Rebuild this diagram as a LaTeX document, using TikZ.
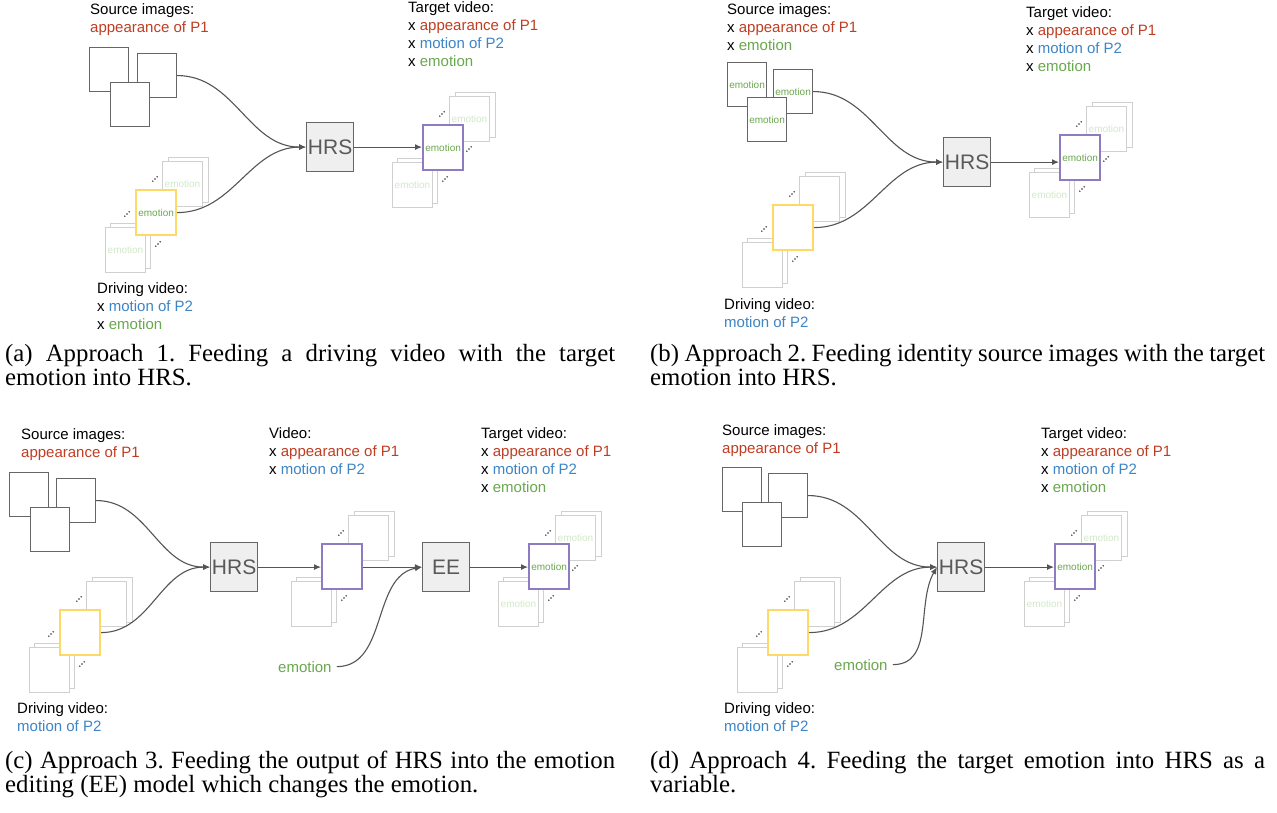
\documentclass[tikz,border=0pt]{standalone}
\usepackage{fontspec}
\setmainfont{Liberation Sans}
\newfontfamily\capfont{Liberation Serif}
\usetikzlibrary{arrows.meta}
\definecolor{cred}{HTML}{C13D22}
\definecolor{cblue}{HTML}{3D85C6}
\definecolor{cgreen}{HTML}{6AA84F}
\definecolor{cfade}{HTML}{D3E8CB}
\definecolor{cyel}{HTML}{FFD966}
\definecolor{cpur}{HTML}{8E7CC3}
\definecolor{cghost}{HTML}{D0D0D0}
\definecolor{cbox}{HTML}{666666}
\definecolor{cline}{HTML}{555555}
\definecolor{cproc}{HTML}{EFEFEF}
\definecolor{cproctext}{HTML}{595959}
\newcommand\Rd[1]{\textcolor{cred}{#1}}
\newcommand\Bl[1]{\textcolor{cblue}{#1}}
\newcommand\Gr[1]{\textcolor{cgreen}{#1}}
\newcommand\tridot[2]{\fill[black!80] ({#1-2.2},{#2+2.2}) circle (0.8) ({#1},{#2}) circle (0.8) ({#1+2.2},{#2-2.2}) circle (0.8);}
\newcommand\vidstack[7]{%
  \node[ghostframe] (#1ub) at ({#2+33},{#3-32}) {};
  \node[ghostframe] (#1uf) at ({#2+27},{#3-28}) {#6};
  \node[ghostframe] (#1lb) at ({#2-25},{#3+34}) {};
  \node[ghostframe] (#1lf) at ({#2-30},{#3+38}) {#6};
  \node[#4] (#1) at (#2,#3) {#5};
  \tridot{#2+20}{#3-10}
  \ifnum#7=1 \tridot{#2+47}{#3+25}\fi
  \ifnum#7=-1 \tridot{#2-8}{#3+25}\fi
  \tridot{#2+23}{#3+55}
}
\begin{document}
\begin{tikzpicture}[x=1pt,y=-1pt,
  lbl/.style={anchor=base west, inner sep=0pt, font=\fontsize{15}{18}\selectfont},
  smallfont/.style={font=\fontsize{10}{12}\selectfont},
  srcbox/.style={smallfont, draw=cbox, fill=white, line width=1.1pt, minimum width=39pt, minimum height=44pt, inner sep=0pt, anchor=north west, text=cgreen},
  ghostframe/.style={smallfont, draw=cghost, fill=white, line width=1pt, minimum width=40pt, minimum height=45pt, inner sep=0pt, anchor=north west, text=cfade},
  yelframe/.style={smallfont, draw=cyel, fill=white, line width=2.2pt, minimum width=40pt, minimum height=45pt, inner sep=0pt, anchor=north west, text=cgreen},
  purframe/.style={smallfont, draw=cpur, fill=white, line width=2.2pt, minimum width=40pt, minimum height=45pt, inner sep=0pt, anchor=north west, text=cgreen},
  proc/.style={draw=cbox, fill=cproc, line width=1.2pt, minimum width=47pt, minimum height=49pt, inner sep=0pt, anchor=north west, text=cproctext, font=\fontsize{21}{21}\selectfont},
  cur/.style={draw=cline, line width=1.1pt, -{Latex[length=7pt,width=6pt]}},
  captxt/.style={anchor=base west, inner sep=0pt, font=\capfont\fontsize{24.8}{24}\selectfont\frenchspacing},
]
\fill[white] (0,0) rectangle (1277,813);
\useasboundingbox (0,0) rectangle (1277,813);

% ---------------- (a) ----------------
\node[lbl] (aSrcL) at (90,15) {\vtop{\hbox{Source images:}\hbox{\Rd{appearance of P1}}}};
\node[lbl] (aTgtL) at (408,13) {\vtop{\hbox{Target video:}\hbox{x \Rd{appearance of P1}}\hbox{x \Bl{motion of P2}}\hbox{x \Gr{emotion}}}};
\node[lbl] (aDrvL) at (97,293) {\vtop{\hbox{Driving video:}\hbox{x \Bl{motion of P2}}\hbox{x \Gr{emotion}}}};
\node[srcbox] (aB1) at (89,47) {};
\node[srcbox] (aB2) at (137,53) {};
\node[srcbox] (aB3) at (110,82) {};
\node[proc] (aH) at (306,122) {HRS};
\vidstack{aD}{135}{189}{yelframe}{emotion}{emotion}{-1}
\vidstack{aT}{422}{124}{purframe}{emotion}{emotion}{1}
\draw[cur] (aB2.east) to[out=0,in=180] (aH.west);
\draw[cur] (aD.east) to[out=0,in=180] (aH.west);
\draw[cur] (aH.east) -- (aH.east -| aT.west);
\node[captxt] (capA) at (5,361) {\parbox[t]{610pt}{(a) Approach 1. Feeding a driving video with the target\linebreak emotion into HRS.}};

% ---------------- (b) ----------------
\node[lbl] (bSrcL) at (727,15) {\vtop{\hbox{Source images:}\hbox{x \Rd{appearance of P1}}\hbox{x \Gr{emotion}}}};
\node[lbl] (bTgtL) at (1026,18) {\vtop{\hbox{Target video:}\hbox{x \Rd{appearance of P1}}\hbox{x \Bl{motion of P2}}\hbox{x \Gr{emotion}}}};
\node[lbl] (bDrvL) at (724,309) {\vtop{\hbox{Driving video:}\hbox{\Bl{motion of P2}}}};
\node[srcbox] (bB1) at (727,62) {emotion};
\node[srcbox] (bB2) at (773,69) {emotion};
\node[srcbox] (bB3) at (747,97) {emotion};
\node[proc] (bH) at (943,137) {HRS};
\vidstack{bD}{772}{204}{yelframe}{}{}{-1}
\vidstack{bT}{1059}{134}{purframe}{emotion}{emotion}{1}
\draw[cur] (bB2.east) to[out=0,in=180] (bH.west);
\draw[cur] (bD.east) to[out=0,in=180] (bH.west);
\draw[cur] (bH.east) -- (bH.east -| bT.west);
\node[captxt] (capB) at (650,361) {\parbox[t]{615pt}{(b) Approach 2. Feeding identity source images with the target\linebreak emotion into HRS.}};

% ---------------- (c) ----------------
\node[lbl] (cSrcL) at (21,439) {\vtop{\hbox{Source images:}\hbox{\Rd{appearance of P1}}}};
\node[lbl] (cVidL) at (269,438) {\vtop{\hbox{Video:}\hbox{x \Rd{appearance of P1}}\hbox{x \Bl{motion of P2}}}};
\node[lbl] (cTgtL) at (481,438) {\vtop{\hbox{Target video:}\hbox{x \Rd{appearance of P1}}\hbox{x \Bl{motion of P2}}\hbox{x \Gr{emotion}}}};
\node[lbl] (cDrvL) at (17,713) {\vtop{\hbox{Driving video:}\hbox{\Bl{motion of P2}}}};
\node[lbl, text=cgreen] (cEmo) at (278,672) {emotion};
\node[srcbox] (cB1) at (9,472) {};
\node[srcbox] (cB2) at (56,478) {};
\node[srcbox] (cB3) at (30,507) {};
\node[proc] (cH) at (210,542) {HRS};
\node[proc] (cEE) at (422,542) {EE};
\vidstack{cD}{59}{609}{yelframe}{}{}{-1}
\vidstack{cM}{321}{543}{purframe}{}{}{0}
\vidstack{cT}{528}{543}{purframe}{emotion}{emotion}{1}
\draw[cur] (cB2.east) to[out=0,in=180] (cH.west);
\draw[cur] (cD.east) to[out=0,in=180] (cH.west);
\draw[cur] (cH.east) -- (cH.east -| cM.west);
\draw[cur] (cH.east -| cM.east) -- (cEE.west);
\draw[cur] ([xshift=5pt]cEmo.east) to[out=0,in=190] (cEE.west);
\draw[cur] (cEE.east) -- (cEE.east -| cT.west);
\node[captxt] (capC) at (5,768) {\parbox[t]{610pt}{(c) Approach 3. Feeding the output of HRS into the emotion\linebreak editing (EE) model which changes the emotion.}};

% ---------------- (d) ----------------
\node[lbl] (dSrcL) at (722,435) {\vtop{\hbox{Source images:}\hbox{\Rd{appearance of P1}}}};
\node[lbl] (dTgtL) at (1041,438) {\vtop{\hbox{Target video:}\hbox{x \Rd{appearance of P1}}\hbox{x \Bl{motion of P2}}\hbox{x \Gr{emotion}}}};
\node[lbl] (dDrvL) at (724,713) {\vtop{\hbox{Driving video:}\hbox{\Bl{motion of P2}}}};
\node[lbl, text=cgreen] (dEmo) at (834,670) {emotion};
\node[srcbox] (dB1) at (722,467) {};
\node[srcbox] (dB2) at (768,473) {};
\node[srcbox] (dB3) at (742,502) {};
\node[proc] (dH) at (937,542) {HRS};
\vidstack{dD}{767}{609}{yelframe}{}{}{-1}
\vidstack{dT}{1054}{543}{purframe}{emotion}{emotion}{1}
\draw[cur] (dB2.east) to[out=0,in=180] (dH.west);
\draw[cur] (dD.east) to[out=0,in=180] (dH.west);
\draw[cur] ([xshift=5pt]dEmo.east) to[out=0,in=240] (dH.west);
\draw[cur] (dH.east) -- (dH.east -| dT.west);
\node[captxt] (capD) at (650,768) {\parbox[t]{615pt}{(d) Approach 4. Feeding the target emotion into HRS as a\linebreak variable.}};
\end{tikzpicture}
\end{document}
